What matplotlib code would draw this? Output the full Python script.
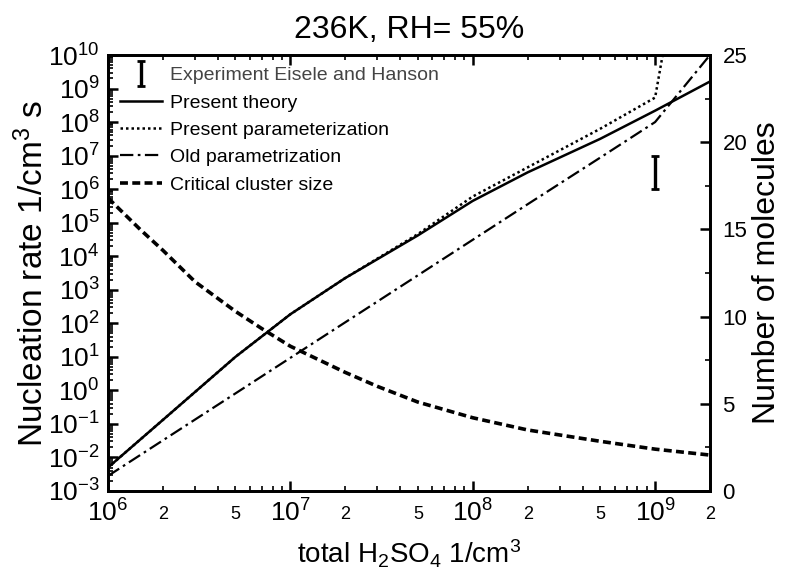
import numpy as np
import matplotlib
matplotlib.use("Agg")
import matplotlib.pyplot as plt
from matplotlib.ticker import LogLocator, FuncFormatter, NullFormatter, MultipleLocator
from matplotlib.legend_handler import HandlerErrorbar

plt.rcParams['font.family'] = ['Liberation Sans', 'DejaVu Sans']
plt.rcParams['mathtext.fontset'] = 'custom'
plt.rcParams['mathtext.rm'] = 'Liberation Sans'
plt.rcParams['mathtext.it'] = 'Liberation Sans:italic'
plt.rcParams['mathtext.default'] = 'regular'

# ---- data ----
h2so4 = [1e6, 2e6, 5e6, 1e7, 2e7, 5e7, 1e8, 2e8, 5e8, 1e9, 2e9]
theory_log = [-2.3, -0.88, 1.0, 2.27, 3.35, 4.62, 5.65, 6.5, 7.5, 8.34, 9.21]

h2so4_param = [1e6, 2e6, 5e6, 1e7, 2e7, 5e7, 1e8, 2e8, 5e8, 1e9, 1.1e9]
param_log = [-2.3, -0.88, 1.0, 2.27, 3.35, 4.66, 5.78, 6.65, 7.8, 8.73, 10.0]

old_log = [-2.55, -1.49, -0.09, 0.97, 2.03, 3.43, 4.49, 5.55, 6.94, 8.0, 10.0]

h2so4_cluster = [1e6, 1.5e6, 2e6, 3e6, 5e6, 7e6, 1e7, 2e7, 3e7, 5e7, 1e8, 2e8, 5e8, 1e9, 2e9]
cluster_size = [16.8, 15.0, 13.8, 12.0, 10.3, 9.3, 8.3, 6.8, 6.0, 5.1, 4.2, 3.5, 2.85, 2.4, 2.06]

exp_x = [1e9]
exp_low = [1e6]
exp_high = [1e7]

theory = [10.0 ** v for v in theory_log]
param = [10.0 ** v for v in param_log]
old = [10.0 ** v for v in old_log]

fig = plt.figure(figsize=(7.85, 5.8), dpi=100)
W, H = 785, 580
ax = fig.add_axes([108 / W, 1 - 491 / H, (710 - 108) / W, (491 - 55) / H])
ax.set_xscale('log')
ax.set_yscale('log')
ax.set_xlim(1e6, 2e9)
ax.set_ylim(1e-3, 1e10)

ax2 = ax.twinx()
ax2.set_ylim(0, 25)

l1, = ax.plot(h2so4, theory, color='black', lw=1.8, ls='-')
l2, = ax.plot(h2so4_param, param, color='black', lw=1.8, ls=(0, (1, 1.2)))
l3, = ax.plot(h2so4, old, color='black', lw=1.6, ls=(0, (6, 2, 1.2, 2)))
l4, = ax2.plot(h2so4_cluster, cluster_size, color='black', lw=2.6, ls=(0, (2.2, 1.2)))

centre = [np.sqrt(a * b) for a, b in zip(exp_low, exp_high)]
yerr = [[c - a for c, a in zip(centre, exp_low)], [b - c for c, b in zip(centre, exp_high)]]
eb = ax.errorbar(exp_x, centre, yerr=yerr, fmt='none', ecolor='black',
                 elinewidth=2.4, capsize=3, capthick=2.0)

# ticks
ax.set_yticks([10.0 ** k for k in range(-3, 11)])
ax.yaxis.set_minor_locator(LogLocator(base=10, subs=np.arange(2, 10), numticks=100))
ax.yaxis.set_minor_formatter(NullFormatter())
ax.yaxis.set_major_formatter(FuncFormatter(lambda v, p: r'$10^{%d}$' % int(round(np.log10(v)))))

ax.set_xticks([1e6, 1e7, 1e8, 1e9])
ax.xaxis.set_major_formatter(FuncFormatter(lambda v, p: r'$10^{%d}$' % int(round(np.log10(v)))))
ax.xaxis.set_minor_locator(LogLocator(base=10, subs=np.arange(2, 10), numticks=100))

def minor_fmt(v, p):
    m = v / 10 ** np.floor(np.log10(v) + 1e-9)
    m = int(round(m))
    return str(m) if m in (2, 5) else ''
ax.xaxis.set_minor_formatter(FuncFormatter(minor_fmt))

ax.tick_params(axis='both', which='major', direction='in', length=7, width=1.8, labelsize=19)
ax.tick_params(axis='both', which='minor', direction='in', length=3.5, width=1.2)
ax.tick_params(axis='y', which='major', pad=6)
ax.tick_params(axis='x', which='minor', labelsize=13, pad=11)
ax.tick_params(axis='x', which='major', pad=6)
ax.tick_params(top=True, right=False, which='both')

ax2.yaxis.set_major_locator(MultipleLocator(5))
ax2.yaxis.set_minor_locator(MultipleLocator(2.5))
ax2.tick_params(which='major', direction='in', length=7, width=1.8, labelsize=16, pad=9)
ax2.tick_params(which='minor', direction='in', length=3.5, width=1.2)

for a in (ax, ax2):
    for s in a.spines.values():
        s.set_linewidth(2.0)

ax.set_xlabel(r'total H$_2$SO$_4$ 1/cm$^3$', fontsize=20)
ax.xaxis.set_label_coords(0.5, -0.108)
ax.set_ylabel(r'Nucleation rate 1/cm$^3$ s', fontsize=24)
ax.yaxis.set_label_coords(-0.096, 0.5)
ax2.set_ylabel('Number of molecules', fontsize=23, rotation=90)
ax2.yaxis.set_label_coords(1.07, 0.5)
ax.set_title('236K, RH= 55%', fontsize=23, pad=12)

leg = ax.legend([eb, l1, l2, l3, l4],
                ['Experiment Eisele and Hanson', 'Present theory', 'Present parameterization',
                 'Old parametrization', 'Critical cluster size'],
                loc='upper left', frameon=False, fontsize=14, handlelength=2.2,
                handletextpad=0.4, labelspacing=0.5, borderaxespad=0.2,
                handler_map={type(eb): HandlerErrorbar(yerr_size=0.65)})
leg.get_texts()[0].set_color('#444444')

fig.savefig('out.png', dpi=100)
